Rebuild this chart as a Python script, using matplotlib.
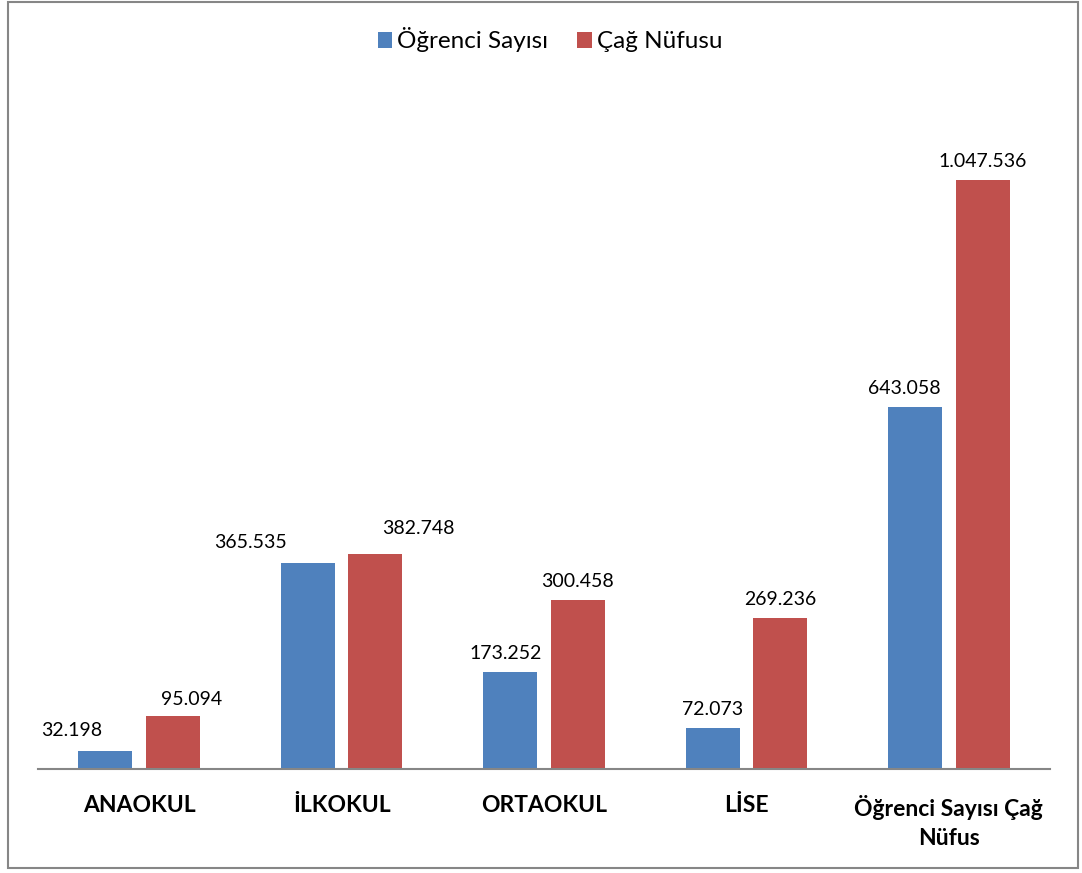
import numpy as np
import matplotlib.pyplot as plt
from matplotlib.patches import Rectangle

categories = ['ANAOKUL', 'İLKOKUL', 'ORTAOKUL', 'LİSE', 'Öğrenci Sayısı Çağ\nNüfus']
ogrenci = [32198, 365535, 173252, 72073, 643058]
cag = [95094, 382748, 300458, 269236, 1047536]
labels_ogrenci = ['32.198', '365.535', '173.252', '72.073', '643.058']
labels_cag = ['95.094', '382.748', '300.458', '269.236', '1.047.536']

plt.rcParams['font.family'] = ['Lato', 'DejaVu Sans']

fig = plt.figure(figsize=(10.82, 8.73), dpi=100)
ax = fig.add_axes([38 / 1082, 1 - 769 / 873, 1012 / 1082, 669 / 873])

X = np.arange(len(categories))
w = 0.267
off = 0.167
blue = '#4f81bd'
red = '#c0504d'

b1 = ax.bar(X - off, ogrenci, w, color=blue, label='Öğrenci Sayısı')
b2 = ax.bar(X + off, cag, w, color=red, label='Çağ Nüfusu')

# label nudges (pixels) so the labels sit like in the original
dx_o = [-34, -57, -5, 0, -11]
dx_c = [19, 43, 0, 0, 0]
dy_o = [12, 12, 10, 10, 10]
dy_c = [8, 17, 10, 10, 10]

for i in range(len(X)):
    ax.annotate(labels_ogrenci[i], (X[i] - off, ogrenci[i]),
                xytext=(dx_o[i] * 0.72, dy_o[i] * 0.72),
                textcoords='offset points', ha='center', va='bottom', fontsize=14)
    ax.annotate(labels_cag[i], (X[i] + off, cag[i]),
                xytext=(dx_c[i] * 0.72, dy_c[i] * 0.72),
                textcoords='offset points', ha='center', va='bottom', fontsize=14)

ax.set_xlim(-0.5, len(X) - 0.5)
ax.set_ylim(0, 1189800)
for s in ['top', 'right', 'left']:
    ax.spines[s].set_visible(False)
ax.spines['bottom'].set_color('#868686')
ax.spines['bottom'].set_linewidth(1.5)
ax.set_yticks([])
ax.set_xticks(X)
ax.set_xticklabels(categories, fontsize=16.5, fontweight='bold', linespacing=1.45)
ax.tick_params(axis='x', length=0, pad=19)

fig.legend(loc='center', bbox_to_anchor=(550 / 1082, 1 - 40 / 873), ncol=2,
           frameon=False, fontsize=17.5, handlelength=0.6, handleheight=0.6,
           handletextpad=0.2, columnspacing=1.2)

fig.patches.append(Rectangle((8 / 1082, 1 - 868 / 873), 1070 / 1082, 866 / 873,
                             transform=fig.transFigure, fill=False,
                             edgecolor='#868686', linewidth=1.5))

plt.savefig('out.png')
